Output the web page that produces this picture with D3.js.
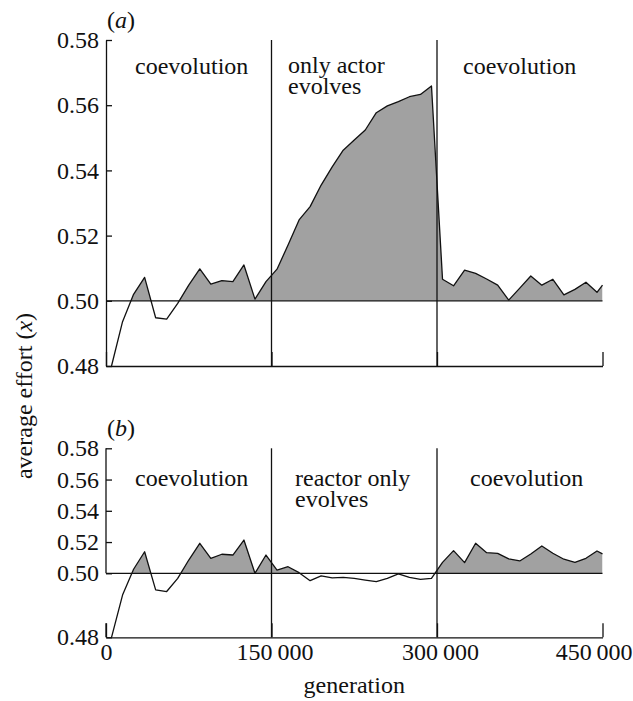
<!DOCTYPE html>
<html>
<head>
<meta charset="utf-8">
<script src="https://cdn.jsdelivr.net/npm/d3@7"></script>
<style>
  body { margin: 0; background: #fff; }
  svg text { font-family: "Liberation Serif", Tinos, "Times New Roman", "DejaVu Serif", serif !important; fill: #111; }
</style>
</head>
<body>
<div class="vis"></div>
<script>
// generation (in thousands) at which the average effort was sampled
const generations = [5, 15, 25, 35, 45, 55, 65, 75, 85, 95,
  105, 115, 125, 135, 145, 155, 165, 175, 185, 195,
  205, 215, 225, 235, 245, 255, 265, 275, 285, 295,
  305, 315, 325, 335, 345, 355, 365, 375, 385, 395,
  405, 415, 425, 435, 445, 450];

// (a) only actor evolves in the middle phase
const effortA = [0.480, 0.4936, 0.502, 0.5072, 0.4948, 0.4944, 0.4992, 0.5048, 0.5098, 0.5051,
  0.5062, 0.5059, 0.511, 0.5005, 0.5059, 0.5097, 0.5171, 0.5248, 0.5289, 0.5355,
  0.5411, 0.5462, 0.5493, 0.5524, 0.5577, 0.5598, 0.5611, 0.5626, 0.5633, 0.5659,
  0.5066, 0.5046, 0.5094, 0.5084, 0.5067, 0.5048, 0.5002, 0.5039, 0.5076, 0.5048,
  0.5066, 0.5018, 0.5035, 0.5057, 0.5026, 0.5048];

// (b) reactor only evolves in the middle phase
const effortB = [0.480, 0.4932, 0.5026, 0.5138, 0.4948, 0.4943, 0.4984, 0.5085, 0.5192, 0.5096,
  0.5122, 0.5117, 0.5213, 0.500, 0.5117, 0.502, 0.5042, 0.5004, 0.4977, 0.4992,
  0.4986, 0.4987, 0.4984, 0.4979, 0.4974, 0.4984, 0.4998, 0.4987, 0.4981, 0.4984,
  0.507, 0.5145, 0.5068, 0.5192, 0.5132, 0.5128, 0.5092, 0.5079, 0.5124, 0.5175,
  0.5128, 0.509, 0.507, 0.5096, 0.5143, 0.5124];

const xTicks = [0, 150000, 300000, 450000];
const xTickLabels = ["0", "150\u2009000", "300\u2009000", "450\u2009000"];
const phaseBreaks = [150000, 300000];
const yTicks = [0.48, 0.50, 0.52, 0.54, 0.56, 0.58];
const baseline = 0.5;

const width = 633;
const height = 701;
const serif = '"Liberation Serif", Tinos, "Times New Roman", "DejaVu Serif", serif';
const fontSize = "24px";

const svg = d3.select(".vis").append("svg")
  .attr("width", width)
  .attr("height", height)
  .attr("font-family", serif);

const x = d3.scaleLinear().domain([0, 450000]).range([106, 602.5]);

// panel a is a plain linear scale, panel b has a broken axis below 0.50
const yA = d3.scaleLinear().domain([0.48, 0.58]).range([366, 40]);
const yB = d3.scaleLinear().domain([0.48, 0.50, 0.58]).range([637.3, 573.3, 448.3]);

function drawPanel(opts) {
  const y = opts.y;
  const g = svg.append("g");
  const data = generations.map((gen, i) => ({ gen: gen * 1000, v: opts.values[i] }));
  const y0 = y(baseline);
  const top = y.range()[y.range().length - 1];
  const bottom = y.range()[0];

  // only keep the part of the area that sits above 0.50
  g.append("clipPath").attr("id", "clip-" + opts.id)
    .append("rect")
    .attr("x", x.range()[0]).attr("y", top)
    .attr("width", x.range()[1] - x.range()[0]).attr("height", y0 - top);

  const area = d3.area()
    .x(d => x(d.gen))
    .y0(y0)
    .y1(d => y(d.v));

  g.append("path")
    .datum(data)
    .attr("clip-path", "url(#clip-" + opts.id + ")")
    .attr("fill", "#a1a1a1")
    .attr("d", area);

  const line = d3.line()
    .x(d => x(d.gen))
    .y(d => y(d.v));

  g.append("path")
    .datum(data)
    .attr("fill", "none")
    .attr("stroke", "#111")
    .attr("stroke-width", 1.3)
    .attr("stroke-linejoin", "round")
    .attr("d", line);

  // 0.50 reference line
  g.append("line")
    .attr("x1", x.range()[0]).attr("x2", x.range()[1])
    .attr("y1", y0).attr("y2", y0)
    .attr("stroke", "#111").attr("stroke-width", 1.3);

  // phase boundaries
  g.selectAll(".phase")
    .data(phaseBreaks)
    .enter()
    .append("line")
    .attr("x1", d => x(d)).attr("x2", d => x(d))
    .attr("y1", top).attr("y2", bottom)
    .attr("stroke", "#111").attr("stroke-width", 1.3);

  // y axis
  const yAxis = g.append("g")
    .attr("transform", "translate(" + x.range()[0] + ",0)")
    .call(d3.axisLeft(y).tickValues(yTicks).tickFormat(d3.format(".2f"))
      .tickSizeInner(-6).tickSizeOuter(0).tickPadding(7));
  yAxis.attr("font-family", serif);
  yAxis.selectAll("text").style("font-size", fontSize).attr("fill", "#111");
  yAxis.selectAll("line").attr("stroke", "#111").attr("stroke-width", 1.3);
  yAxis.select(".domain").attr("stroke", "#111").attr("stroke-width", 1.3);
  if (opts.broken) {
    // axis is interrupted between 0.50 and the bottom stub
    yAxis.select(".domain").remove();
    yAxis.append("line").attr("x1", 0).attr("x2", 0)
      .attr("y1", y(0.58)).attr("y2", y(0.50))
      .attr("stroke", "#111").attr("stroke-width", 1.3);
    yAxis.append("line").attr("x1", 0).attr("x2", 0)
      .attr("y1", y(0.4844)).attr("y2", y(0.48))
      .attr("stroke", "#111").attr("stroke-width", 1.3);
  }

  // x axis
  const xAxis = g.append("g")
    .attr("transform", "translate(0," + bottom + ")")
    .call(d3.axisBottom(x).tickValues(xTicks)
      .tickFormat((d, i) => opts.xLabels ? xTickLabels[i] : "")
      .tickSizeInner(-14).tickSizeOuter(0).tickPadding(6));
  xAxis.attr("font-family", serif);
  xAxis.selectAll("text").style("font-size", fontSize).attr("fill", "#111")
    .attr("dx", (d, i) => (i === 0 ? 0 : 3));
  // last label pushed inside the window edge
  xAxis.selectAll(".tick text").filter(d => d === 450000)
    .attr("text-anchor", "end").attr("dx", 0).attr("x", 632 - x(450000));
  xAxis.selectAll("line").attr("stroke", "#111").attr("stroke-width", 1.3);
  xAxis.select(".domain").attr("stroke", "#111").attr("stroke-width", 1.3);

  // panel letter
  const letter = g.append("text")
    .attr("x", 107).attr("y", opts.letterY)
    .style("font-size", fontSize);
  letter.append("tspan").text("(");
  letter.append("tspan").style("font-style", "italic").text(opts.letter);
  letter.append("tspan").text(")");

  // phase labels
  opts.labels.forEach(lab => {
    const t = g.append("text")
      .attr("x", lab.x).attr("y", lab.y)
      .style("font-size", fontSize);
    lab.lines.forEach((s, i) => {
      t.append("tspan").attr("x", lab.x).attr("dy", i === 0 ? 0 : 21).text(s);
    });
  });
}

drawPanel({
  id: "a", y: yA, values: effortA, broken: false, xLabels: false,
  letter: "a", letterY: 28,
  labels: [
    { x: 135, y: 74, lines: ["coevolution"] },
    { x: 288, y: 73, lines: ["only actor", "evolves"] },
    { x: 463, y: 74, lines: ["coevolution"] }
  ]
});

drawPanel({
  id: "b", y: yB, values: effortB, broken: true, xLabels: true,
  letter: "b", letterY: 436,
  labels: [
    { x: 135, y: 486, lines: ["coevolution"] },
    { x: 295, y: 486, lines: ["reactor only", "evolves"] },
    { x: 470, y: 486, lines: ["coevolution"] }
  ]
});

// Label til x-aksen
svg.append("text")
  .attr("x", (x.range()[0] + x.range()[1]) / 2)
  .attr("y", 693)
  .attr("text-anchor", "middle")
  .style("font-size", fontSize)
  .text("generation");

// Label til y-aksen
const yLabel = svg.append("text")
  .attr("transform", "translate(32,396) rotate(-90)")
  .attr("text-anchor", "middle")
  .style("font-size", fontSize);
yLabel.append("tspan").text("average effort (");
yLabel.append("tspan").style("font-style", "italic").text("x");
yLabel.append("tspan").text(")");
</script>
</body>
</html>
